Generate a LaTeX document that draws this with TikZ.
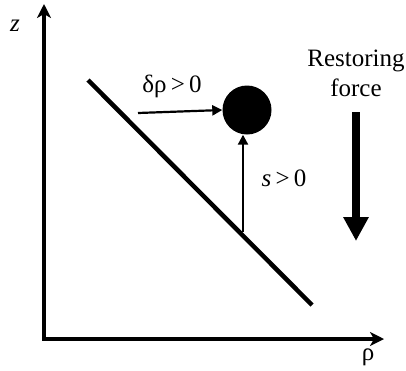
\documentclass[tikz,border=0pt]{standalone}
\usepackage{fontspec}
\setmainfont{Liberation Serif}
\usetikzlibrary{arrows.meta}
\begin{document}
\begin{tikzpicture}[x=1pt,y=-1pt,
  lbl/.style={inner sep=0pt,font=\fontsize{25}{29}\selectfont},
  axis/.style={line width=3.3pt,-{Stealth[length=14pt,width=14pt,inset=4pt]}},
  thin/.style={line width=2.2pt,-{Triangle[length=10pt,width=10pt]}}]
\useasboundingbox (0,0) rectangle (406,370);
\coordinate (O) at (44,339);
\coordinate (ztip) at (44,4);
\coordinate (rtip) at (384,339);
\draw[axis,line cap=rect] (O) -- (ztip);
\draw[axis] (O) -- (rtip);
\node[lbl] (zl) at (15,26) {\itshape z};
\node[lbl] (rl) at (368,357) {ρ};
\coordinate (d1) at (88,80);
\coordinate (d2) at (312,305);
\draw[line width=4.5pt] (d1) -- (d2);
\node[circle,fill=black,minimum size=49pt,inner sep=0pt] (ball) at (247,110) {};
\coordinate (hs) at (138,113);
\draw[thin] (hs) -- (ball.west);
\node[lbl] (dl) at (172,86) {δρ\,>\,0};
\coordinate (vs) at (243,232);
\draw[thin] (vs) -- (vs |- ball.south);
\node[lbl] (sl) at (284,178) {\itshape s\,\upshape>\,0};
\node[lbl,align=center,font=\fontsize{25}{30}\selectfont] (rf) at (356,73) {Restoring\\force};
\coordinate (fs) at (356,112);
\coordinate (fe) at (356,241);
\draw[line width=8pt,-{Triangle[length=24pt,width=24pt]}] (fs) -- (fe);
\end{tikzpicture}
\end{document}
